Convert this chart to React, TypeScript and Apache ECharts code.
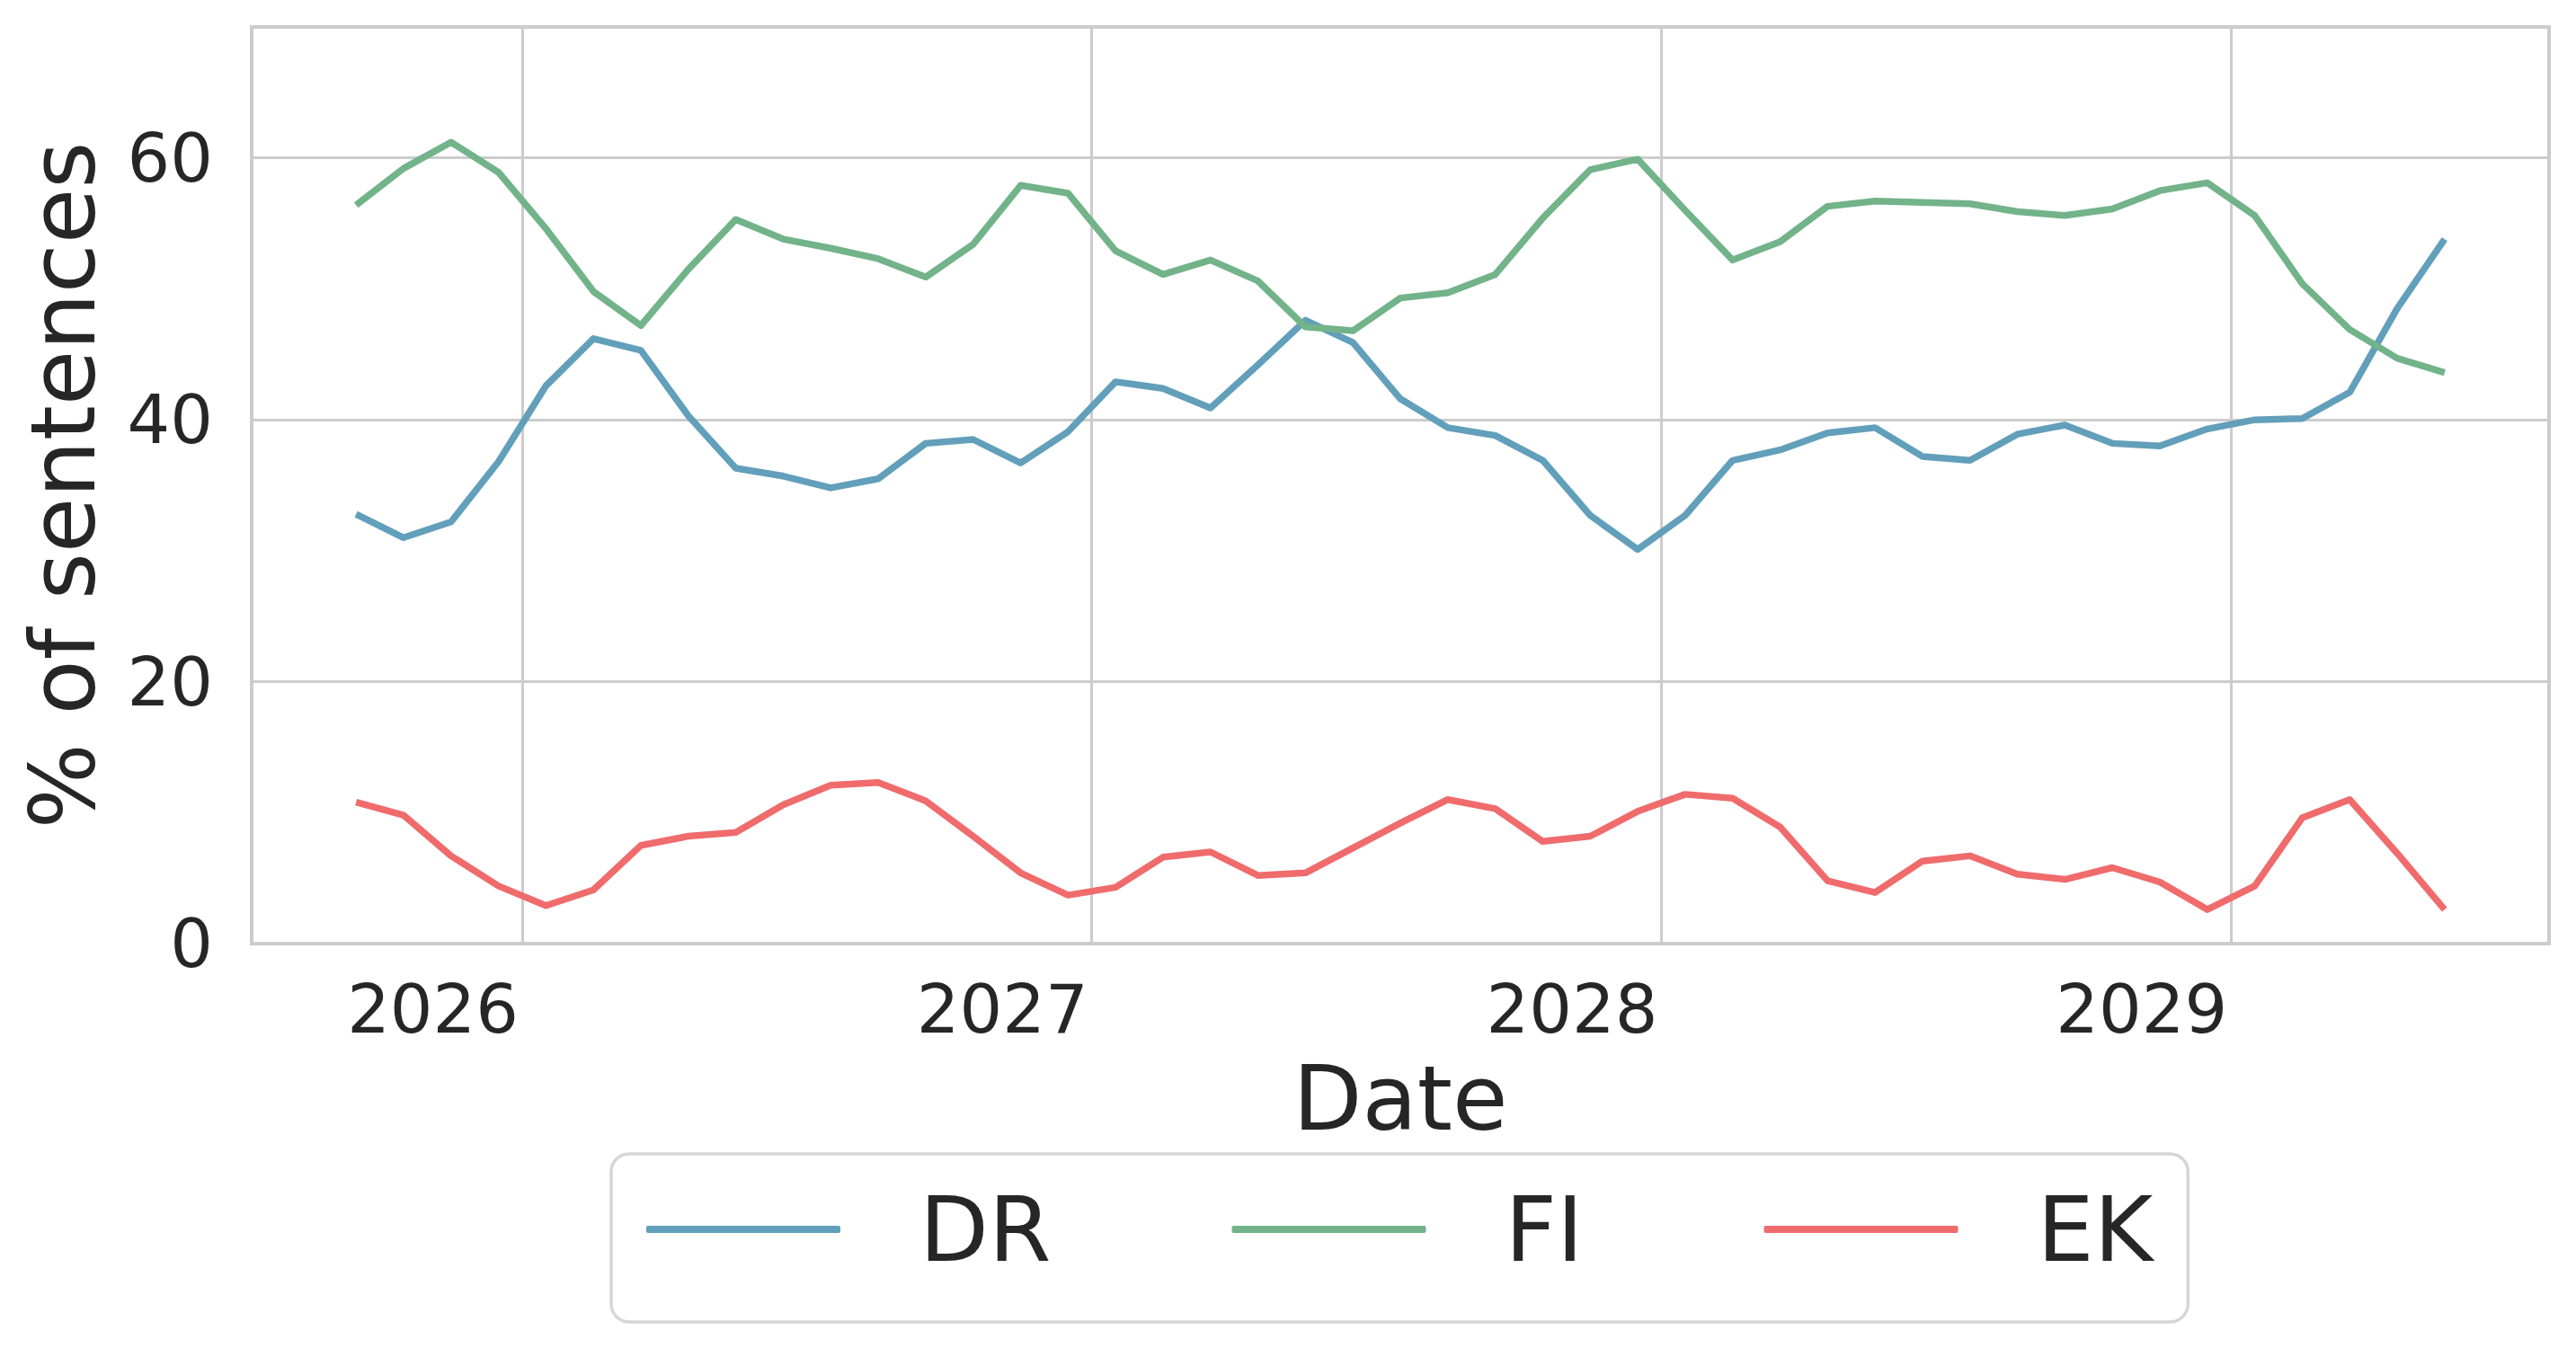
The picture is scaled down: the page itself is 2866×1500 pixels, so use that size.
import React, { useEffect, useRef } from "react";
import * as echarts from "echarts";

const months = [
  "2025-09", "2025-10", "2025-11", "2025-12",
  "2026-01", "2026-02", "2026-03", "2026-04", "2026-05", "2026-06", "2026-07", "2026-08", "2026-09", "2026-10", "2026-11", "2026-12",
  "2027-01", "2027-02", "2027-03", "2027-04", "2027-05", "2027-06", "2027-07", "2027-08", "2027-09", "2027-10", "2027-11", "2027-12",
  "2028-01", "2028-02", "2028-03", "2028-04", "2028-05", "2028-06", "2028-07", "2028-08", "2028-09", "2028-10", "2028-11", "2028-12",
  "2029-01", "2029-02", "2029-03", "2029-04", "2029-05",
];

const DR = [32.8, 31.0, 32.2, 36.8, 42.6, 46.2, 45.3, 40.3, 36.3, 35.7, 34.8, 35.5, 38.2, 38.5, 36.7, 39.1, 42.9, 42.4, 40.9, 44.2, 47.6, 45.9, 41.6, 39.4, 38.8, 36.9, 32.7, 30.1, 32.7, 36.9, 37.7, 39.0, 39.4, 37.2, 36.9, 38.9, 39.6, 38.2, 38.0, 39.3, 40.0, 40.1, 42.1, 48.5, 53.8];
const FI = [56.4, 59.2, 61.2, 58.9, 54.6, 49.8, 47.2, 51.5, 55.3, 53.8, 53.1, 52.3, 50.9, 53.4, 57.9, 57.3, 52.9, 51.1, 52.2, 50.6, 47.1, 46.8, 49.3, 49.7, 51.1, 55.4, 59.1, 59.9, 56.0, 52.2, 53.6, 56.3, 56.7, 56.6, 56.5, 55.9, 55.6, 56.1, 57.5, 58.1, 55.6, 50.4, 46.9, 44.7, 43.6];
const EK = [10.8, 9.8, 6.7, 4.4, 2.9, 4.1, 7.5, 8.2, 8.5, 10.6, 12.1, 12.3, 10.9, 8.2, 5.4, 3.7, 4.3, 6.6, 7.0, 5.2, 5.4, 7.3, 9.2, 11.0, 10.3, 7.8, 8.2, 10.1, 11.4, 11.1, 8.9, 4.8, 3.9, 6.3, 6.7, 5.3, 4.9, 5.8, 4.7, 2.6, 4.4, 9.6, 11.0, 6.9, 2.6];

const yearTicks = [2026, 2027, 2028, 2029];
const yTicks = [0, 20, 40, 60];

const seriesNames = ["DR", "FI", "EK"];
const seriesColors = ["#629fba", "#72b389", "#f06b6c"];

const TEXT = "#262626";
const FONT = "DejaVu Sans";

export default function App() {
  const ref = useRef<HTMLDivElement>(null);

  useEffect(() => {
    document.body.style.margin = "0";
    if (!ref.current) return;
    const chart = echarts.init(ref.current, undefined, { renderer: "svg" });

    // decimal year at mid-month
    const xs = months.map((m) => {
      const [y, mo] = m.split("-").map(Number);
      return y + (mo - 1 + 0.5) / 12;
    });
    const x0 = xs[0];
    const x1 = xs[xs.length - 1];
    const pad = (x1 - x0) * 0.05;

    const values = [DR, FI, EK];

    chart.setOption({
      animation: false,
      backgroundColor: "#ffffff",
      textStyle: { fontFamily: FONT, color: TEXT },
      grid: {
        left: 280,
        right: 30,
        top: 30,
        bottom: 450,
        show: true,
        borderColor: "#cccccc",
        borderWidth: 4,
        containLabel: false,
        outerBoundsMode: "none",
      },
      legend: {
        data: seriesNames,
        orient: "horizontal",
        left: 680,
        top: 1284,
        icon: "roundRect",
        itemWidth: 216,
        itemHeight: 8,
        itemGap: 201,
        padding: [34, 39, 53, 39],
        borderColor: "#d6d6d6",
        borderWidth: 3.5,
        borderRadius: 20,
        itemStyle: { borderWidth: 0 },
        textStyle: {
          fontSize: 100,
          fontFamily: FONT,
          color: TEXT,
          lineHeight: 100,
          padding: [0, 0, 0, 83],
        },
      },
      xAxis: {
        type: "value",
        min: x0 - pad,
        max: x1 + pad,
        name: "Date",
        nameLocation: "middle",
        nameGap: 122,
        nameTextStyle: { fontSize: 100, fontFamily: FONT, color: TEXT },
        axisLine: { show: false },
        axisTick: { show: false, customValues: yearTicks },
        axisLabel: {
          customValues: yearTicks,
          formatter: (v: number) => String(Math.round(v)),
          align: "right",
          margin: 35,
          fontSize: 75,
          fontFamily: FONT,
          color: TEXT,
          padding: [0, 4, 0, 0],
        },
        splitLine: { show: true, lineStyle: { color: "#cccccc", width: 3 } },
      },
      yAxis: {
        type: "value",
        min: 0,
        max: 70,
        name: "% of sentences",
        nameLocation: "middle",
        nameGap: 160,
        nameTextStyle: { fontSize: 100, fontFamily: FONT, color: TEXT },
        axisLine: { show: false },
        axisTick: { show: false, customValues: yTicks },
        axisLabel: {
          customValues: yTicks,
          margin: 43,
          fontSize: 75,
          fontFamily: FONT,
          color: TEXT,
        },
        splitLine: { show: true, lineStyle: { color: "#cccccc", width: 3 } },
      },
      series: seriesNames.map((name, i) => ({
        name,
        type: "line",
        data: xs.map((x, j) => [x, values[i][j]]),
        showSymbol: false,
        symbol: "none",
        color: seriesColors[i],
        lineStyle: { width: 7.5, color: seriesColors[i], join: "round" },
        itemStyle: { color: seriesColors[i] },
      })),
    });

    return () => chart.dispose();
  }, []);

  return <div ref={ref} style={{ width: 2866, height: 1500 }} />;
}
